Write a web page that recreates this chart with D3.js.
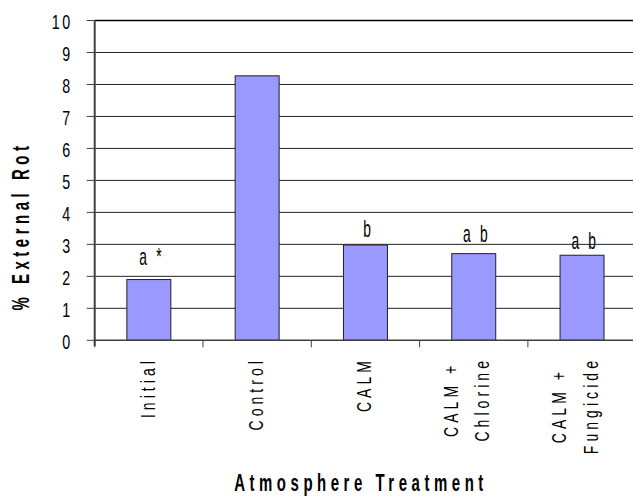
<!DOCTYPE html>
<html>
<head>
<meta charset="utf-8">
<script src="https://cdn.jsdelivr.net/npm/d3@7"></script>
<style>
  body { margin: 0; background: #fff; }
  text { font-family: "Liberation Sans", Arial, sans-serif; fill: #000; }
</style>
</head>
<body>
<div id="chart"></div>
<script>
// values
let categories = ["Initial", "Control", "CALM", "CALM + Chlorine", "CALM + Fungicide"];
let categoryLines = [["Initial"], ["Control"], ["CALM"], ["CALM +", "Chlorine"], ["CALM +", "Fungicide"]];
let rotValues = [1.9, 8.27, 2.98, 2.71, 2.66];
let letters = ["a *", "", "b", "a b", "a b"];
let letterLevel = [2.35, 0, 3.22, 3.06, 2.87];
let yTicks = d3.range(0, 11);

let width = 633, height = 496;
let plot = { left: 94.7, right: 636.2, top: 20.5, bottom: 340.3 };

let svg = d3.select("#chart").append("svg")
  .attr("width", width)
  .attr("height", height);

let x = d3.scaleBand()
  .domain(categories)
  .range([plot.left, plot.right])
  .paddingInner(0.594)
  .paddingOuter(0.297);

let y = d3.scaleLinear()
  .domain([0, 10])
  .range([plot.bottom, plot.top]);

// squeezed, spaced text: the original font is narrow with wide tracking
let squeezed = function (g, str, size, k, spacing, anchor, weight) {
  return g.append("text")
    .attr("transform", `scale(${k},1)`)
    .attr("text-anchor", anchor)
    .style("font-size", size + "px")
    .style("font-weight", weight || "normal")
    .style("letter-spacing", spacing + "px")
    .text(str);
};

// gridlines
svg.append("g").selectAll("line")
  .data(yTicks.filter(d => d > 0))
  .enter().append("line")
    .attr("x1", plot.left).attr("x2", plot.right)
    .attr("y1", d => y(d)).attr("y2", d => y(d))
    .attr("stroke", d => d == 10 ? "#000" : "#222")
    .attr("stroke-width", d => d == 10 ? 1.5 : 1);

// bars
svg.append("g").selectAll("rect")
  .data(categories)
  .enter().append("rect")
    .attr("x", d => x(d))
    .attr("width", x.bandwidth())
    .attr("y", (d, i) => y(rotValues[i]))
    .attr("height", (d, i) => y(0) - y(rotValues[i]))
    .attr("fill", "#9999ff")
    .attr("stroke", "#222")
    .attr("stroke-width", 1);

// axes
let axisColor = "#404040";
svg.append("line")
  .attr("x1", plot.left).attr("x2", plot.left)
  .attr("y1", plot.top).attr("y2", plot.bottom + 6)
  .attr("stroke", axisColor).attr("stroke-width", 2);
svg.append("line")
  .attr("x1", plot.left).attr("x2", plot.right)
  .attr("y1", plot.bottom).attr("y2", plot.bottom)
  .attr("stroke", axisColor).attr("stroke-width", 1.5);

// y ticks + labels
let yt = svg.append("g").selectAll("g")
  .data(yTicks)
  .enter().append("g")
    .attr("transform", d => `translate(0,${y(d)})`);
yt.append("line")
  .attr("x1", plot.left - 8).attr("x2", plot.left)
  .attr("stroke", axisColor).attr("stroke-width", 1);
yt.each(function (d) {
  let g = d3.select(this).append("g").attr("transform", "translate(72.5,8.5)");
  squeezed(g, d, 21, 0.68, 3.5, "end");
});

// x ticks between categories
let step = x.step();
svg.append("g").selectAll("line")
  .data(d3.range(0, categories.length))
  .enter().append("line")
    .attr("x1", d => plot.left + d * step)
    .attr("x2", d => plot.left + d * step)
    .attr("y1", plot.bottom).attr("y2", plot.bottom + 7)
    .attr("stroke", axisColor).attr("stroke-width", 1);

// letters above bars
categories.forEach((c, i) => {
  if (!letters[i]) return;
  let g = svg.append("g")
    .attr("transform", `translate(${x(c) + x.bandwidth() / 2 + 3},${y(letterLevel[i])})`);
  squeezed(g, letters[i], 23, 0.6, 4.5, "middle");
});

// rotated category labels
let catTop = 357, labelK = 0.7;
categories.forEach((c, i) => {
  let lines = categoryLines[i];
  let cx = x(c) + x.bandwidth() / 2;
  let holder = svg.append("g");
  let nodes = lines.map((l, j) => {
    let off = lines.length == 1 ? 6 : (j == 0 ? -16 : 15.6);
    let g = holder.append("g");
    let t = squeezed(g, l, 20, labelK, 5.8, "middle");
    return { g: g, t: t, off: off };
  });
  let maxLen = d3.max(nodes, n => n.t.node().getComputedTextLength() * labelK);
  let cy = catTop + maxLen / 2;
  nodes.forEach(n => n.g.attr("transform", `translate(${cx + n.off},${cy}) rotate(-90)`));
});

// axis titles
let yTitle = svg.append("g").attr("transform", "translate(28.5,226) rotate(-90)");
squeezed(yTitle, "% External Rot", 23, 0.65, 7, "middle", "bold");

let xTitle = svg.append("g").attr("transform", "translate(361,491)");
squeezed(xTitle, "Atmosphere Treatment", 23, 0.65, 7, "middle", "bold");
</script>
</body>
</html>
